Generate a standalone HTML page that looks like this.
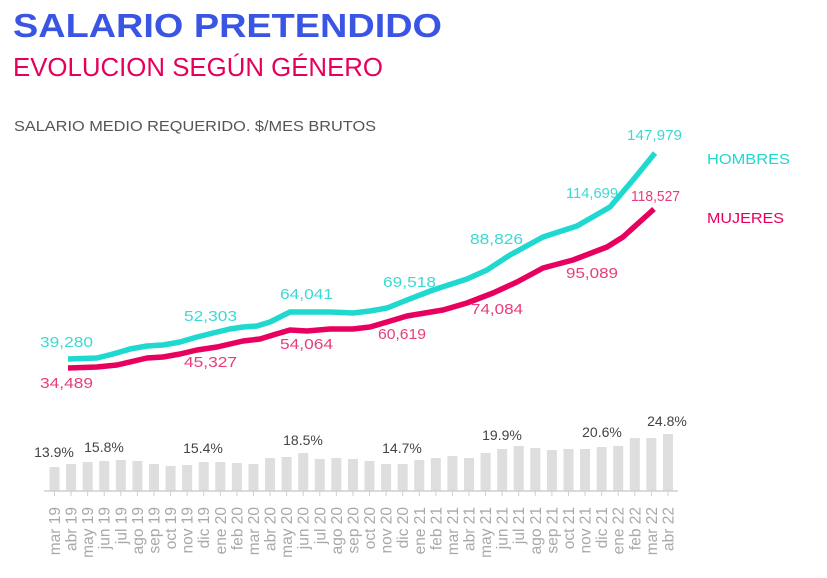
<!DOCTYPE html>
<html><head><meta charset="utf-8"><style>
html,body{margin:0;padding:0;background:#fff;}
svg{display:block;font-family:"Liberation Sans",sans-serif;}
</style></head><body>
<svg width="827" height="578" viewBox="0 0 827 578" xmlns="http://www.w3.org/2000/svg">
<text x="13" y="37" font-size="33" font-weight="bold" fill="#3a55e4" textLength="429" lengthAdjust="spacingAndGlyphs">SALARIO PRETENDIDO</text>
<text x="13" y="76" font-size="26" fill="#e6005c" textLength="370" lengthAdjust="spacingAndGlyphs">EVOLUCION SEGÚN GÉNERO</text>
<text x="14" y="131" font-size="15" fill="#555" textLength="362" lengthAdjust="spacingAndGlyphs">SALARIO MEDIO REQUERIDO. $/MES BRUTOS</text>

<polyline fill="none" stroke="#1fd8d0" stroke-width="5.5" stroke-linejoin="round" points="68,359 97,358 113,354 130,349 147,346 163,345 180,342 197,337 213,333 230,329 243,327 257,326 270,322 290,312 307,312 330,312 353,313 370,311 387,308 407,300 433,290 467,279 487,270 510,255 543,237 577,226 610,207 633,180 655,153"/>
<polyline fill="none" stroke="#e8005f" stroke-width="5.5" stroke-linejoin="round" points="68,368 97,367 117,365 147,358 163,357 180,354 197,350 217,347 243,341 260,339 273,335 290,330 307,331 330,329 353,329 370,327 387,322 407,316 443,310 467,303 493,293 517,282 543,268 573,260 607,247 623,237 654,209"/>

<g font-size="15" fill="#3cd9d3">
<text x="40" y="347" textLength="53" lengthAdjust="spacingAndGlyphs">39,280</text>
<text x="184" y="321" textLength="53" lengthAdjust="spacingAndGlyphs">52,303</text>
<text x="280" y="299" textLength="53" lengthAdjust="spacingAndGlyphs">64,041</text>
<text x="383" y="287" textLength="53" lengthAdjust="spacingAndGlyphs">69,518</text>
<text x="470" y="244" textLength="53" lengthAdjust="spacingAndGlyphs">88,826</text>
<text x="566" y="198" textLength="52" lengthAdjust="spacingAndGlyphs">114,699</text>
<text x="627" y="140" textLength="55" lengthAdjust="spacingAndGlyphs">147,979</text>
<text x="707" y="164" font-size="15" textLength="83" lengthAdjust="spacingAndGlyphs" fill="#1fd8d0">HOMBRES</text>
</g>
<g font-size="15" fill="#e83d7c">
<text x="40" y="388" textLength="53" lengthAdjust="spacingAndGlyphs">34,489</text>
<text x="184" y="367" textLength="53" lengthAdjust="spacingAndGlyphs">45,327</text>
<text x="280" y="349" textLength="53" lengthAdjust="spacingAndGlyphs">54,064</text>
<text x="378" y="339" textLength="48" lengthAdjust="spacingAndGlyphs">60,619</text>
<text x="471" y="314" textLength="52" lengthAdjust="spacingAndGlyphs">74,084</text>
<text x="566" y="278" textLength="52" lengthAdjust="spacingAndGlyphs">95,089</text>
<text x="631" y="201" textLength="49" lengthAdjust="spacingAndGlyphs">118,527</text>
<text x="707" y="223" textLength="77" lengthAdjust="spacingAndGlyphs" fill="#e8005f">MUJERES</text>
</g>

<g id="bars" fill="#dedede"></g>
<line x1="44" y1="491" x2="678" y2="491" stroke="#cfcfcf" stroke-width="1.5"/>
<g id="ticks" stroke="#cfcfcf" stroke-width="1"></g>
<g id="xl" font-size="15.5" fill="#a8a8a8"></g>

<g font-size="14" fill="#444" text-anchor="middle">
<text x="54" y="457">13.9%</text>
<text x="104" y="452">15.8%</text>
<text x="203" y="453">15.4%</text>
<text x="303" y="445">18.5%</text>
<text x="402" y="453">14.7%</text>
<text x="502" y="440">19.9%</text>
<text x="602" y="437">20.6%</text>
<text x="667" y="426">24.8%</text>
</g>
<script>
var tops=[467,464,462,461,460,461,464,466,465,462,462,463,464,458,457,453,459,458,459,461,464,464,460,458,456,458,453,449,446,448,450,449,449,447,446,438,438,434];
var labs=["mar 19","abr 19","may 19","jun 19","jul 19","ago 19","sep 19","oct 19","nov 19","dic 19","ene 20","feb 20","mar 20","abr 20","may 20","jun 20","jul 20","ago 20","sep 20","oct 20","nov 20","dic 20","ene 21","feb 21","mar 21","abr 21","may 21","jun 21","jul 21","ago 21","sep 21","oct 21","nov 21","dic 21","ene 22","feb 22","mar 22","abr 22"];
var ns="http://www.w3.org/2000/svg",b=document.getElementById("bars"),t=document.getElementById("ticks"),xl=document.getElementById("xl");
for(var i=0;i<38;i++){var cx=54.5+i*16.58;
var r=document.createElementNS(ns,"rect");r.setAttribute("x",cx-5);r.setAttribute("y",tops[i]);r.setAttribute("width",10);r.setAttribute("height",491-tops[i]);b.appendChild(r);
var l=document.createElementNS(ns,"line");l.setAttribute("x1",cx);l.setAttribute("x2",cx);l.setAttribute("y1",491);l.setAttribute("y2",496);t.appendChild(l);
var s=document.createElementNS(ns,"text");s.setAttribute("text-anchor","end");s.setAttribute("transform","translate("+(cx+5.5)+",507) rotate(-90)");s.textContent=labs[i];xl.appendChild(s);}
</script>
</svg>
</body></html>
